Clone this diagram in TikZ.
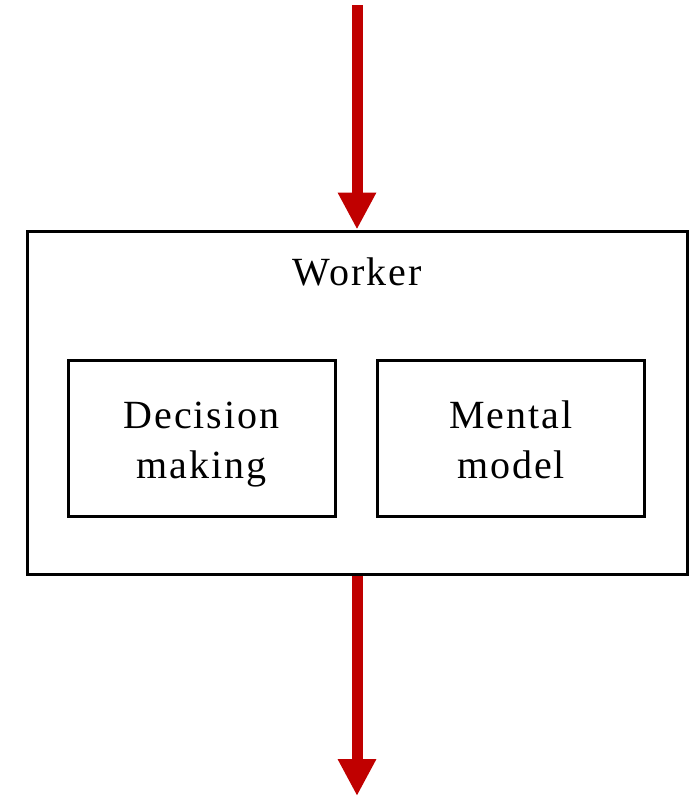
\documentclass[tikz,border=0pt]{standalone}
\usepackage{fontspec}
\setmainfont[LetterSpace=5]{Liberation Serif}
\usetikzlibrary{arrows.meta,positioning}
\tikzstyle{outer box}=[draw,line width=3pt,minimum width=660pt,minimum height=343pt,inner sep=0pt]
\tikzstyle{inner box}=[draw,line width=3pt,minimum width=267pt,minimum height=156pt,align=center,inner sep=0pt,font=\fontsize{40}{50}\selectfont]
\tikzstyle{flow}=[draw,line width=11pt,color=arrowred,-{Triangle[width=36pt,length=37pt]}]
\definecolor{arrowred}{RGB}{192,0,0}
\newcommand{\topstrut}{\rule{0pt}{45pt}}

\begin{document}
\begin{tikzpicture}[x=1pt,y=-1pt]
    % page frame
    \useasboundingbox (0,0) rectangle (689,796);
    % the worker and its two parts
    \node[outer box] (worker) at (357,402.5) {};
    \node[font=\fontsize{40}{49}\selectfont] (title) at (357,272) {Worker};
    \node[inner box] (decision) at (201.5,438) {\topstrut Decision\\making\strut};
    \node[inner box] (mental) at (511,438) {\topstrut Mental\\model\strut};
    % flow in and out
    \coordinate (in) at (357,5);
    \coordinate (out) at (357,796);
    \path[flow] (in) -- (worker.north);
    \path[flow] (worker.south) -- (out);
\end{tikzpicture}
\end{document}
